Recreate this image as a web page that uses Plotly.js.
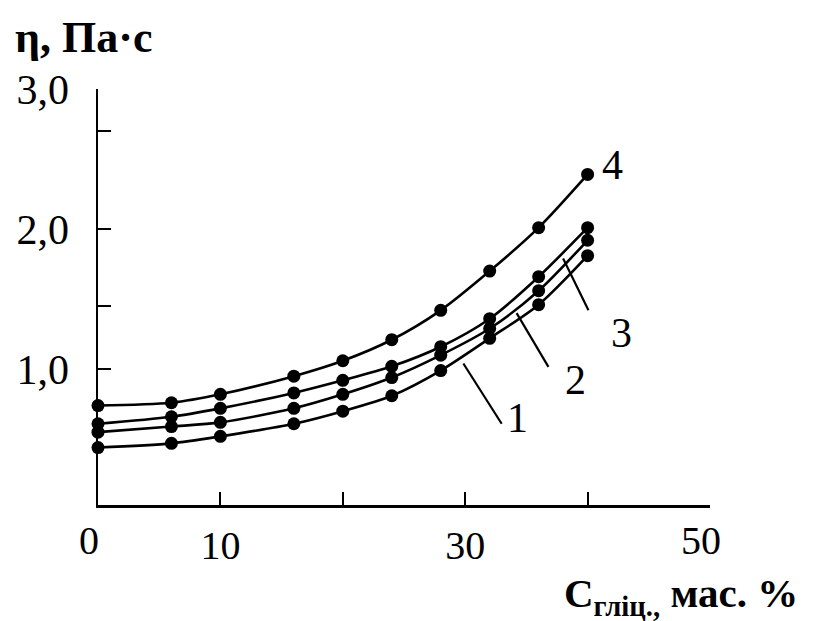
<!DOCTYPE html>
<html>
<head>
<meta charset="utf-8">
<script src="https://cdn.plot.ly/plotly-3.0.1.min.js"></script>
<style>
  html, body { margin: 0; padding: 0; background: #ffffff; }
  #chart { width: 819px; height: 621px; }
</style>
</head>
<body>
<div id="chart"></div>
<script>
// Glycerol content, mass %
const glycerol = [0, 6, 10, 16, 20, 24, 28, 32, 36, 40];

// Dynamic viscosity, Pa·s, for curves 1–4
const visc1 = [0.44, 0.47, 0.52, 0.61, 0.70, 0.81, 0.99, 1.22, 1.46, 1.81];
const visc2 = [0.55, 0.59, 0.62, 0.72, 0.82, 0.94, 1.10, 1.29, 1.56, 1.92];
const visc3 = [0.61, 0.66, 0.72, 0.83, 0.92, 1.02, 1.16, 1.36, 1.66, 2.01];
const visc4 = [0.74, 0.76, 0.82, 0.95, 1.06, 1.21, 1.42, 1.70, 2.01, 2.39];

const curveNames = ['1', '2', '3', '4'];

// Axis ticks
const xTickMarks = [10, 20, 30, 40];
const xInnerLabels = [10, 30];
const xEdgeLabels = [0, 50];
const yTickVals = [1.0, 1.45, 2.0, 2.7, 3.0];
const yTickText = ['1,0', '', '2,0', '', '3,0'];

// Curve labels with their leader lines
const labelText = ['1', '2', '3', '4'];
const labelX = [34.3, 39.0, 42.8, 42.0];
const labelY = [0.65, 0.92, 1.255, 2.46];
const leaderX0 = [29.85, 34.2, 38.0];
const leaderY0 = [1.04, 1.40, 1.79];
const leaderX1 = [32.98, 36.8, 40.07];
const leaderY1 = [0.61, 1.016, 1.42];

const serif = 'Liberation Serif, Times New Roman, serif';
const series = [visc1, visc2, visc3, visc4];

const traces = series.map((v, i) => ({
  type: 'scatter',
  mode: 'lines+markers',
  name: curveNames[i],
  x: glycerol,
  y: v,
  line: { color: '#000000', width: 2.6, shape: 'spline', smoothing: 0.8 },
  marker: { color: '#000000', size: 13 },
  cliponaxis: false,
  showlegend: false,
  hoverinfo: 'skip'
}));

// Empty carriers so the label-only x axes are laid out
traces.push({
  type: 'scatter', mode: 'markers', x: xInnerLabels, y: [null, null],
  xaxis: 'x2', yaxis: 'y', marker: { opacity: 0 }, showlegend: false, hoverinfo: 'skip'
});
traces.push({
  type: 'scatter', mode: 'markers', x: xEdgeLabels, y: [null, null],
  xaxis: 'x3', yaxis: 'y', marker: { opacity: 0 }, showlegend: false, hoverinfo: 'skip'
});

const shapes = leaderX0.map((x0, i) => ({
  type: 'line', xref: 'x', yref: 'y',
  x0: x0, y0: leaderY0[i], x1: leaderX1[i], y1: leaderY1[i],
  line: { color: '#000000', width: 2.2 }
}));

const annotations = labelText.map((t, i) => ({
  xref: 'x', yref: 'y', x: labelX[i], y: labelY[i],
  text: t, showarrow: false,
  font: { family: serif, size: 42, color: '#000000' },
  xanchor: 'center', yanchor: 'middle'
}));

annotations.push({
  xref: 'paper', yref: 'paper', x: -0.139, y: 1.125,
  xanchor: 'left', yanchor: 'middle', showarrow: false,
  text: '<b>η, Па·с</b>',
  font: { family: serif, size: 44, color: '#000000' }
});

annotations.push({
  xref: 'paper', yref: 'paper', x: 1.147, y: -0.218,
  xanchor: 'right', yanchor: 'middle', showarrow: false,
  text: '<b>С<sub>гліц.,</sub> мас. %</b>',
  font: { family: serif, size: 41, color: '#000000' }
});

const labelFont = { family: serif, size: 40, color: '#000000' };

const layout = {
  width: 819,
  height: 621,
  margin: { l: 98, r: 109, t: 89, b: 116, pad: 0 },
  paper_bgcolor: '#ffffff',
  plot_bgcolor: '#ffffff',
  showlegend: false,
  xaxis: {
    range: [0, 50],
    showgrid: false, zeroline: false,
    showline: true, linecolor: '#000000', linewidth: 2.5,
    ticks: 'inside', ticklen: 13, tickwidth: 2, tickcolor: '#000000',
    tickmode: 'array', tickvals: xTickMarks,
    showticklabels: false
  },
  xaxis2: {
    overlaying: 'x', anchor: 'y', side: 'bottom',
    range: [0, 50],
    showgrid: false, zeroline: false, showline: false,
    ticks: '', tickmode: 'array', tickvals: xInnerLabels,
    ticktext: xInnerLabels.map(String),
    ticklabelstandoff: 13,
    tickfont: labelFont
  },
  xaxis3: {
    overlaying: 'x', anchor: 'y', side: 'bottom',
    range: [0, 50],
    showgrid: false, zeroline: false, showline: false,
    ticks: '', tickmode: 'array', tickvals: xEdgeLabels,
    ticktext: xEdgeLabels.map(String),
    ticklabelstandoff: 8, ticklabelshift: -9,
    tickfont: labelFont
  },
  yaxis: {
    range: [0.03, 3.0],
    showgrid: false, zeroline: false,
    showline: true, linecolor: '#000000', linewidth: 2.5,
    ticks: 'inside', ticklen: 13, tickwidth: 2, tickcolor: '#000000',
    tickmode: 'array', tickvals: yTickVals, ticktext: yTickText,
    ticklabelstandoff: 18,
    tickfont: { family: serif, size: 42, color: '#000000' }
  },
  shapes: shapes,
  annotations: annotations
};

Plotly.newPlot('chart', traces, layout, { staticPlot: true, displayModeBar: false });
</script>
</body>
</html>
